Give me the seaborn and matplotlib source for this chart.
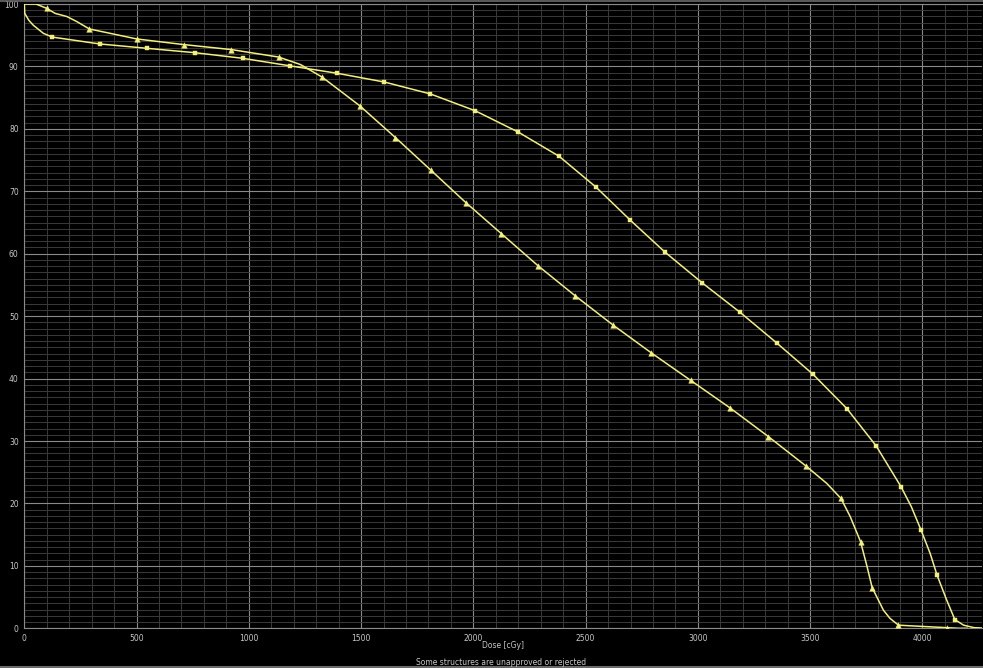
import matplotlib
matplotlib.use("Agg")
import matplotlib.pyplot as plt
from matplotlib.ticker import MultipleLocator
from matplotlib.lines import Line2D
import numpy as np
import pandas as pd
import seaborn as sns

# ---- data ----
# triangle series: marker positions
tri_dose = [100, 290, 501, 710, 922, 1133, 1326, 1494, 1653, 1810, 1966, 2125,
            2287, 2452, 2621, 2793, 2968, 3143, 3314, 3481, 3637, 3724, 3776,
            3893, 4109]
tri_vol = [99.3, 96.0, 94.4, 93.5, 92.7, 91.5, 88.3, 83.7, 78.6, 73.4, 68.2,
           63.2, 58.1, 53.3, 48.6, 44.1, 39.7, 35.3, 30.7, 26.0, 20.8, 13.9,
           6.5, 0.5, 0.1]
# extra points (no marker)
tri_curve_dose = [0, 52, 137, 189, 233, 1230, 3574, 3678, 3753, 3826, 3855, 4000, 4160, 4200]
tri_curve_vol = [100.0, 100.0, 98.5, 98.0, 97.2, 90.3, 23.2, 17.9, 9.9, 2.9, 1.6, 0.3, 0.0, 0.0]

# square series: marker positions
sq_dose = [125, 336, 547, 760, 973, 1182, 1394, 1604, 1808, 2008, 2199, 2382,
           2545, 2698, 2855, 3020, 3188, 3351, 3512, 3663, 3794, 3904, 3994,
           4065, 4144]
sq_vol = [94.7, 93.6, 92.9, 92.2, 91.3, 90.1, 88.9, 87.5, 85.6, 82.9, 79.5,
          75.6, 70.7, 65.4, 60.2, 55.3, 50.6, 45.7, 40.7, 35.2, 29.2, 22.7,
          15.7, 8.5, 1.4]
# extra points (no marker)
sq_curve_dose = [0, 2, 20, 40, 85, 3950, 4034, 4108, 4183, 4230, 4265]
sq_curve_vol = [100.0, 98.5, 97.4, 96.6, 95.3, 19.5, 12.0, 4.5, 0.5, 0.1, 0.05]

x_ticks = [0, 500, 1000, 1500, 2000, 2500, 3000, 3500, 4000]
y_ticks = [0, 10, 20, 30, 40, 50, 60, 70, 80, 90, 100]
x_label = "Dose [cGy]"
footer = "Some structures are unapproved or rejected"

# ---- style ----
sns.set_theme(style="dark")
plt.rcParams["font.family"] = ["DejaVu Sans"]

YEL = "#f3ef7c"
MAJ = "#8a8a8a"
MIN = "#3a3a3a"
TXT = "#c8c8c8"

fig = plt.figure(figsize=(9.83, 6.68), dpi=100, facecolor="black")
ax = fig.add_axes([24.3 / 983, 39.7 / 668, (982 - 24.3) / 983, (664 - 39.7) / 668])
ax.set_facecolor("black")

tri_line = pd.DataFrame({"dose": tri_dose + tri_curve_dose,
                         "vol": tri_vol + tri_curve_vol}).sort_values("dose")
sq_line = pd.DataFrame({"dose": sq_dose + sq_curve_dose,
                        "vol": sq_vol + sq_curve_vol}).sort_values("dose")

sns.lineplot(data=tri_line, x="dose", y="vol", ax=ax, color=YEL, lw=1.1,
             sort=False, estimator=None, zorder=3)
sns.lineplot(data=sq_line, x="dose", y="vol", ax=ax, color=YEL, lw=1.1,
             sort=False, estimator=None, zorder=3)
sns.scatterplot(x=tri_dose, y=tri_vol, ax=ax, marker="^", s=16, color=YEL,
                edgecolor=YEL, linewidth=0.3, zorder=4)
sns.scatterplot(x=sq_dose, y=sq_vol, ax=ax, marker="s", s=9, color=YEL,
                edgecolor=YEL, linewidth=0.3, zorder=4)

ax.set_xlim(0, 4265)
ax.set_ylim(0, 100)
ax.set_xticks(x_ticks)
ax.set_yticks(y_ticks)
ax.xaxis.set_minor_locator(MultipleLocator(100))
ax.yaxis.set_minor_locator(MultipleLocator(1))
ax.grid(which="minor", color=MIN, lw=0.7, zorder=0)
ax.grid(which="major", color=MAJ, lw=0.8, zorder=1)
ax.set_axisbelow(True)

ax.tick_params(which="major", length=2, width=0.6, color=MAJ, labelcolor=TXT,
               labelsize=5.5, pad=2)
ax.tick_params(which="minor", length=0)
ax.set_xlabel(x_label, color=TXT, fontsize=5.5, labelpad=-1.5)
ax.set_ylabel("")

for side in ["left", "bottom", "top"]:
    ax.spines[side].set_visible(True)
    ax.spines[side].set_color(MAJ)
    ax.spines[side].set_linewidth(0.8)
ax.spines["right"].set_visible(False)

fig.text(0.51, 1 - 662.3 / 668, footer, color=TXT, fontsize=5.5,
         ha="center", va="center")

fig.add_artist(Line2D([0, 1], [1 - 1.2 / 668, 1 - 1.2 / 668], color="#6a6a6a", lw=1.2))
fig.add_artist(Line2D([0, 1], [1.5 / 668, 1.5 / 668], color="#6a6a6a", lw=1.5))

fig.savefig("out.png", dpi=100, facecolor="black")
